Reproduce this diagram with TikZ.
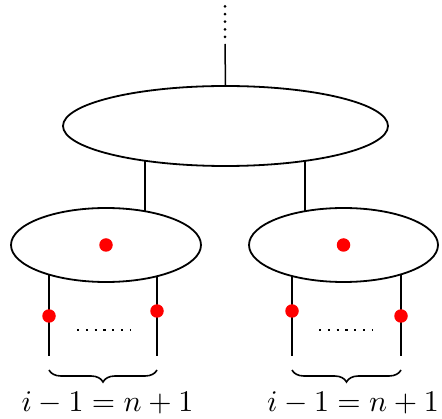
\documentclass[tikz,border=0pt]{standalone}
\usetikzlibrary{decorations.pathreplacing,backgrounds,shapes.geometric}
\begin{document}
\begin{tikzpicture}[x=1pt,y=-1pt,
  ell/.style={draw,ellipse,line width=1.8pt,fill=white,inner sep=0pt},
  conn/.style={line width=1.5pt},
  reddot/.style={circle,fill=red,inner sep=0pt,minimum size=13.5pt},
  brc/.style={decorate,decoration={brace,mirror,amplitude=12pt},line width=1.6pt},
  lbl/.style={scale=3.0,anchor=base,inner sep=0pt}]
\useasboundingbox (0,0) rectangle (442,419);
% ellipses
\node[ell,minimum width=325pt,minimum height=80pt] (big) at (225.5,126) {};
\node[ell,minimum width=190pt,minimum height=74pt] (L) at (106,245) {};
\node[ell,minimum width=189pt,minimum height=74pt] (R) at (343.5,245) {};
\node[reddot] (Lc) at (L.center) {};
\node[reddot] (Rc) at (R.center) {};
% top
\coordinate (top) at (225,6.5);
\coordinate (mid) at (225,44);
\draw[line width=3pt,line cap=round,dash pattern=on 0pt off 7.6pt] (top) -- (225,38);
\draw[conn] (mid) -- (big.north);
% free ends
\coordinate (La) at (49,356);
\coordinate (Lb) at (157,356);
\coordinate (Ra) at (292,356);
\coordinate (Rb) at (401,356);
\begin{scope}[on background layer]
\draw[conn] ([xshift=-80.5pt]big.center) -- ([xshift=39pt]L.center);
\draw[conn] ([xshift=79.5pt]big.center) -- ([xshift=-38.5pt]R.center);
\draw[conn] (La |- L.center) -- (La);
\draw[conn] (Lb |- L.center) -- (Lb);
\draw[conn] (Ra |- R.center) -- (Ra);
\draw[conn] (Rb |- R.center) -- (Rb);
\end{scope}
% red dots on legs
\node[reddot] (La1) at (49,316) {};
\node[reddot] (Lb1) at (157,311) {};
\node[reddot] (Ra1) at (292,311) {};
\node[reddot] (Rb1) at (401,316) {};
% horizontal dots
\draw[line width=2.2pt,dash pattern=on 2.2pt off 6.6pt] (77,330) -- (131,330);
\draw[line width=2.2pt,dash pattern=on 2.2pt off 6.6pt] (319,330) -- (373,330);
% braces
\draw[brc] (49,370) -- (157,370);
\draw[brc] (292,370) -- (401,370);
\node[lbl] (Lt) at (107.5,412) {$i-1=n+1$};
\node[lbl] (Rt) at (353,412) {$i-1=n+1$};
\end{tikzpicture}
\end{document}
